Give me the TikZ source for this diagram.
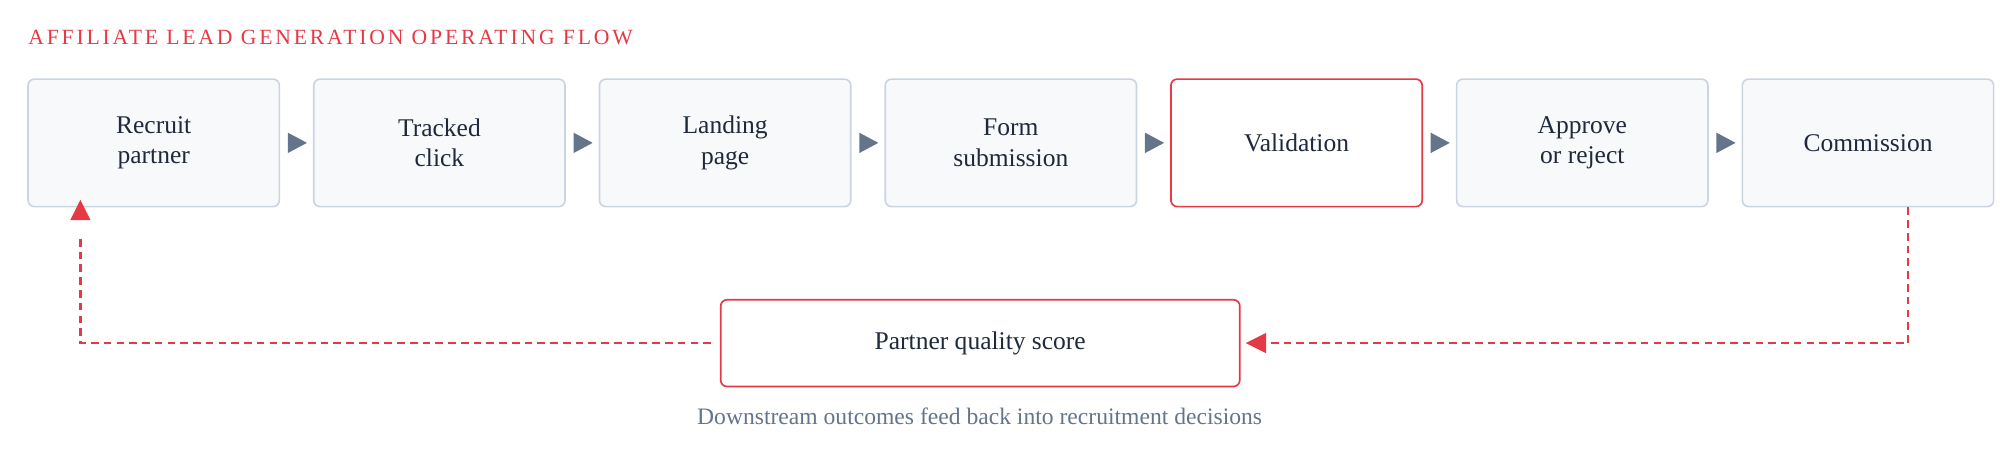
\documentclass[tikz,border=0pt]{standalone}
\usepackage{fontspec}
\setmainfont{Liberation Serif}
\usetikzlibrary{arrows.meta,calc}
\definecolor{rd}{HTML}{E63946}
\definecolor{bd}{HTML}{CBD5E1}
\definecolor{fl}{HTML}{F8F9FB}
\definecolor{tx}{HTML}{1E293B}
\definecolor{gr}{HTML}{64748B}
\begin{document}
\begin{tikzpicture}[x=1pt,y=-1pt,
 box/.style={draw=bd,line width=1.3pt,fill=fl,rounded corners=5pt,minimum width=197pt,minimum height=100pt,align=center,font=\fontsize{20}{24}\selectfont,text=tx,inner sep=0pt},
 hot/.style={box,draw=rd,fill=white},
 fb/.style={rd,line width=2pt,dash pattern=on 6pt off 4pt}]
\useasboundingbox (0,0) rectangle (1568,354);
\node[anchor=west,inner sep=0pt,text=rd,font=\fontsize{17}{20}\selectfont\addfontfeature{LetterSpace=13}] (t) at (22,29) {AFFILIATE LEAD GENERATION OPERATING FLOW};
\node[box] (b1) at (120.5,112) {Recruit\\partner};
\node[box] (b2) at (344.5,112) {Tracked\\click};
\node[box] (b3) at (568.5,112) {Landing\\page};
\node[box] (b4) at (792.5,112) {Form\\submission};
\node[hot] (b5) at (1016.5,112) {Validation};
\node[box] (b6) at (1240.5,112) {Approve\\or reject};
\node[box] (b7) at (1464.5,112) {Commission};
\foreach \a in {b1,b2,b3,b4,b5,b6}{
 \fill[gr] ($(\a.east)+(6,-8)$) -- ($(\a.east)+(21,0)$) -- ($(\a.east)+(6,8)$) -- cycle;
}
\node[hot,minimum width=407pt,minimum height=68pt] (q) at (768.5,269) {Partner quality score};
\coordinate (c1) at (1496,269);
\coordinate (c2) at (63,269);
\draw[fb] ([xshift=31.5pt]b7.south) -- (c1) -- ([xshift=20pt]q.east);
\fill[rd] ([xshift=4pt]q.east) -- ++(16,-8) -- ++(0,16) -- cycle;
\draw[fb] ([xshift=-7pt]q.west) -- (c2) -- (63,184);
\fill[rd] ([xshift=-57.5pt,yshift=6pt]b1.south) -- ++(-8,16) -- ++(16,0) -- cycle;
\node[text=gr,font=\fontsize{18.5}{22}\selectfont] (cap) at (768,326) {Downstream outcomes feed back into recruitment decisions};
\end{tikzpicture}
\end{document}
